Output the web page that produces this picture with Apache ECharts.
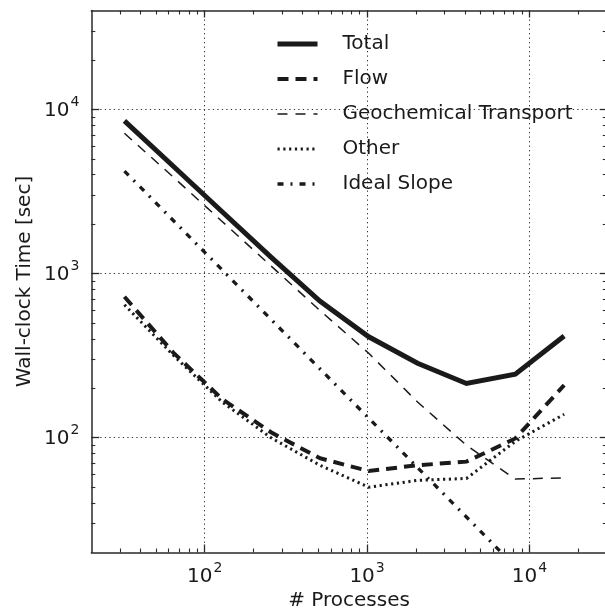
<!DOCTYPE html>
<html><head><meta charset="utf-8">
<script src="https://cdn.jsdelivr.net/npm/echarts@6/dist/echarts.min.js"></script>
<style>html,body{margin:0;padding:0;background:#fff}#c{width:605px;height:611px}</style>
</head><body><div id="c"></div><script>
// ---- data ----
const processes = [32, 64, 128, 256, 512, 1024, 2048, 4096, 8192, 16384];
const total   = [8500, 4500, 2380, 1260, 680, 412, 284, 214, 244, 416];
const flow    = [722, 330, 172, 108, 75, 62.7, 68, 71.5, 99, 209];
const geochem = [7150, 3870, 2075, 1112, 596, 327, 165, 90, 56, 57];
const other   = [645, 318, 165, 100, 68, 50, 55, 56.5, 95, 139];
const ideal   = [4210, 2105, 1052, 526, 263, 131.6, 65.8, 32.9, 16.4, 8.2];
const seriesNames = ['Total', 'Flow', 'Geochemical Transport', 'Other', 'Ideal Slope'];
const majorTicks = [100, 1000, 10000];
const xMinorTicks = [30,40,50,60,70,80,90,200,300,400,500,600,700,800,900,2000,3000,4000,5000,6000,7000,8000,9000,20000];
const yMinorTicks = [30,40,50,60,70,80,90,200,300,400,500,600,700,800,900,2000,3000,4000,5000,6000,7000,8000,9000,20000,30000];
const xTitle = '# Processes';
const yTitle = 'Wall-clock Time [sec]';

const FONT = 'DejaVu Sans';
const INK = '#1a1a1a';
const SPINE = '#2a2a2a';
const X_MIN = 20, X_MAX = 30000, Y_MIN = 20, Y_MAX = 40000;

const pairs = arr => processes.map((p, i) => [p, arr[i]]);
const supFmt = v => '{b|10}{s|' + Math.round(Math.log10(v)) + '}';
const richLabel = {
  b: { fontSize: 20, fontFamily: FONT, color: INK, lineHeight: 22, verticalAlign: 'bottom' },
  s: { fontSize: 14, fontFamily: FONT, color: INK, lineHeight: 14, padding: [0, 0, 11, 1], verticalAlign: 'bottom' }
};

function baseAxis(kind, pos, extra) {
  const isX = kind === 'x';
  return Object.assign({
    type: 'log', logBase: 10,
    min: isX ? X_MIN : Y_MIN, max: isX ? X_MAX : Y_MAX,
    position: pos,
    nameMoveOverlap: false,
    axisLine: { show: false },
    axisTick: { show: false },
    axisLabel: { show: false },
    splitLine: { show: false },
    minorTick: { show: false },
    minorSplitLine: { show: false }
  }, extra);
}
const gridLine = { show: true, lineStyle: { color: '#333', width: 1, type: [1.3, 3.2] } };

const xAxes = [
  baseAxis('x', 'bottom', {
    name: xTitle, nameLocation: 'middle', nameGap: 38,
    nameTextStyle: { fontSize: 20, fontFamily: FONT, color: INK },
    axisLine: { show: true, lineStyle: { color: SPINE, width: 1.5 } },
    axisTick: { show: true, inside: true, length: 8, customValues: majorTicks, lineStyle: { color: SPINE, width: 1.3 } },
    axisLabel: { show: true, customValues: majorTicks, margin: 12, formatter: supFmt, rich: richLabel },
    splitLine: gridLine
  }),
  baseAxis('x', 'bottom', {
    axisTick: { show: true, inside: true, length: 4, customValues: xMinorTicks, lineStyle: { color: SPINE, width: 1.1 } }
  }),
  baseAxis('x', 'top', {
    axisLine: { show: true, lineStyle: { color: SPINE, width: 1.5 } },
    axisTick: { show: true, inside: true, length: 7, customValues: majorTicks, lineStyle: { color: SPINE, width: 1.3 } }
  }),
  baseAxis('x', 'top', {
    axisTick: { show: true, inside: true, length: 4, customValues: xMinorTicks, lineStyle: { color: SPINE, width: 1.1 } }
  })
];
const yAxes = [
  baseAxis('y', 'left', {
    name: yTitle, nameLocation: 'middle', nameGap: 57,
    nameTextStyle: { fontSize: 20, fontFamily: FONT, color: INK },
    axisLine: { show: true, lineStyle: { color: SPINE, width: 1.5 } },
    axisTick: { show: true, inside: true, length: 8, customValues: majorTicks, lineStyle: { color: SPINE, width: 1.3 } },
    axisLabel: { show: true, customValues: majorTicks, margin: 12, formatter: supFmt, rich: richLabel },
    splitLine: gridLine
  }),
  baseAxis('y', 'left', {
    axisTick: { show: true, inside: true, length: 4, customValues: yMinorTicks, lineStyle: { color: SPINE, width: 1.1 } }
  }),
  baseAxis('y', 'right', {
    axisLine: { show: true, lineStyle: { color: SPINE, width: 1.5 } },
    axisTick: { show: true, inside: true, length: 7, customValues: majorTicks, lineStyle: { color: SPINE, width: 1.3 } }
  }),
  baseAxis('y', 'right', {
    axisTick: { show: true, inside: true, length: 4, customValues: yMinorTicks, lineStyle: { color: SPINE, width: 1.1 } }
  })
];

function lineSeries(name, arr, width, type, z) {
  return {
    name, type: 'line', data: pairs(arr), xAxisIndex: 0, yAxisIndex: 0,
    symbol: 'none', showSymbol: false, smooth: false, clip: true, z,
    itemStyle: { color: INK },
    lineStyle: { color: INK, width, type, cap: 'butt', join: 'miter' },
    emphasis: { disabled: true }
  };
}

const chart = echarts.init(document.getElementById('c'), null, { renderer: 'canvas' });
chart.setOption({
  animation: false,
  backgroundColor: '#fff',
  textStyle: { fontFamily: FONT },
  grid: { left: 91.3, right: -1.8, top: 10.5, bottom: 58.5, containLabel: false, outerBoundsMode: 'none' },
  legend: {
    data: seriesNames, orient: 'vertical', left: 275, top: 34, padding: 0,
    itemWidth: 40, itemHeight: 20, itemGap: 15,
    itemStyle: { color: 'rgba(0,0,0,0)', borderWidth: 0, opacity: 0 },
    lineStyle: { width: 'inherit', type: 'inherit', color: 'inherit' },
    textStyle: { fontSize: 20, fontFamily: FONT, color: INK, lineHeight: 20, padding: [0, 0, 0, 20] },
    selectedMode: false
  },
  xAxis: xAxes,
  yAxis: yAxes,
  series: [
    lineSeries(seriesNames[0], total, 5, 'solid', 5),
    lineSeries(seriesNames[1], flow, 4, [11, 7], 4),
    lineSeries(seriesNames[2], geochem, 1.5, [10, 8], 3),
    lineSeries(seriesNames[3], other, 3, [2.2, 3.6], 3),
    lineSeries(seriesNames[4], ideal, 3.3, [6, 7, 2, 7], 2)
  ]
});
</script></body></html>
